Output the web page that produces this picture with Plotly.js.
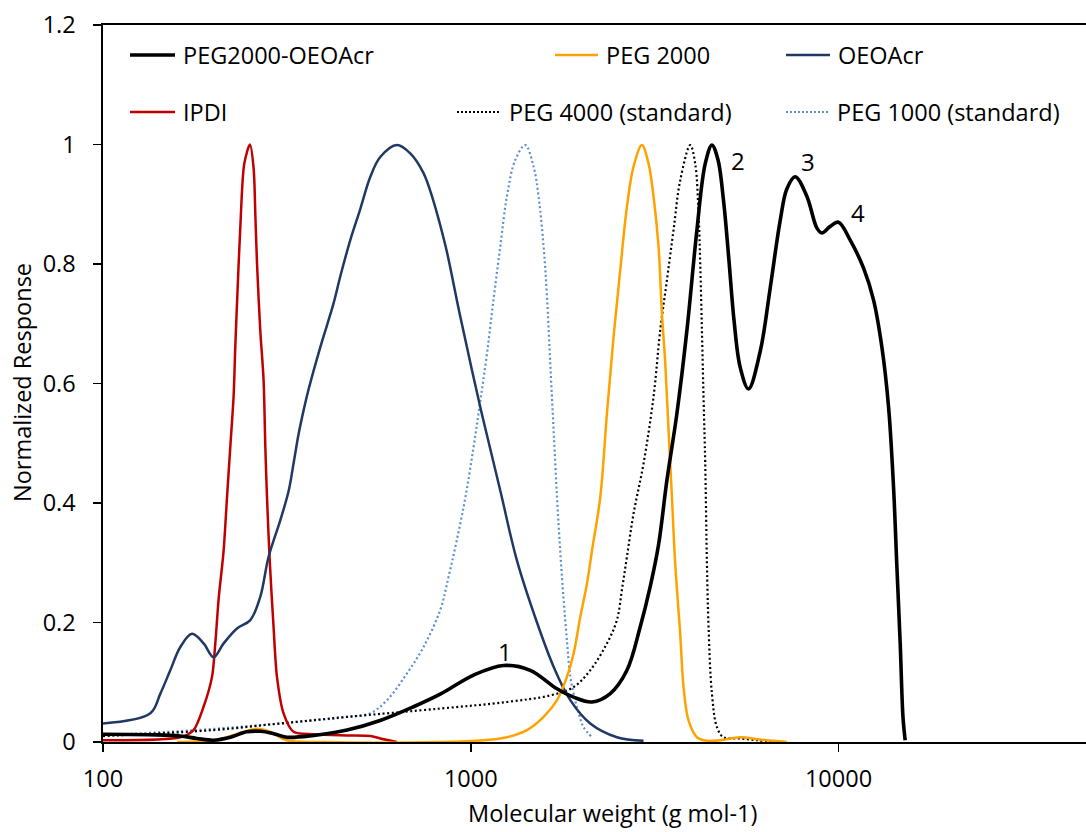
<!DOCTYPE html>
<html>
<head>
<meta charset="utf-8">
<script src="https://cdn.plot.ly/plotly-3.0.1.min.js"></script>
<style>
  html, body { margin: 0; padding: 0; background: #ffffff; overflow: hidden; }
  #chart { width: 1086px; height: 832px; }
</style>
</head>
<body>
<div id="chart"></div>
<script>
// ---- Data (molecular weight in g/mol, normalized response) ----
const seriesNames = ["PEG2000-OEOAcr", "PEG 2000", "OEOAcr", "IPDI", "PEG 4000 (standard)", "PEG 1000 (standard)"];

const copolyMW = [100, 140, 162, 180, 200, 222, 246, 268, 291, 316, 374, 461, 567, 699, 826, 1018, 1228, 1451, 1716, 1904, 2136, 2395, 2659, 2890, 3076, 3241, 3415, 3636, 3871, 4121, 4341, 4527, 4700, 4870, 5030, 5200, 5404, 5692, 6126, 6521, 6942, 7239, 7626, 8206, 8736, 9013, 9494, 10000, 10760, 11700, 12450, 13120, 13680, 14110, 14410, 14720, 14970, 15180];
const copolyResp = [0.013, 0.012, 0.010, 0.006, 0.003, 0.008, 0.017, 0.018, 0.014, 0.008, 0.011, 0.020, 0.036, 0.059, 0.080, 0.112, 0.128, 0.120, 0.089, 0.075, 0.067, 0.081, 0.120, 0.193, 0.260, 0.330, 0.438, 0.550, 0.689, 0.857, 0.968, 0.999, 0.975, 0.905, 0.810, 0.705, 0.627, 0.591, 0.654, 0.760, 0.873, 0.926, 0.946, 0.913, 0.860, 0.852, 0.863, 0.870, 0.840, 0.793, 0.740, 0.661, 0.561, 0.428, 0.295, 0.163, 0.043, 0.003];

const peg2000MW = [159, 200, 217, 241, 262, 285, 316, 400, 826, 1083, 1254, 1422, 1578, 1716, 1826, 1904, 1985, 2070, 2136, 2250, 2346, 2445, 2550, 2659, 2771, 2921, 3044, 3141, 3241, 3310, 3380, 3450, 3524, 3597, 3712, 3790, 3910, 4121, 4387, 4768, 5404, 6126, 7239];
const peg2000Resp = [0.0, 0.003, 0.008, 0.017, 0.022, 0.017, 0.003, 0.0, 0.0, 0.003, 0.008, 0.020, 0.042, 0.070, 0.109, 0.148, 0.209, 0.265, 0.320, 0.410, 0.550, 0.678, 0.790, 0.896, 0.963, 0.999, 0.968, 0.913, 0.829, 0.717, 0.634, 0.522, 0.410, 0.299, 0.180, 0.092, 0.036, 0.008, 0.002, 0.003, 0.008, 0.004, 0.0];

const oeoMW = [100, 134.5, 143.2, 152.4, 162.3, 174.6, 187.7, 199.8, 212.8, 231.4, 251.5, 267.7, 282, 303.4, 319.7, 329.7, 340.2, 351.1, 362.2, 389.9, 423.6, 441.7, 470.3, 500.7, 533.3, 567.5, 630, 684.7, 744, 792, 826, 861.5, 936.5, 1061, 1203, 1335, 1514, 1680, 1865, 2113, 2497, 2950];
const oeoResp = [0.031, 0.048, 0.081, 0.120, 0.159, 0.181, 0.165, 0.142, 0.165, 0.190, 0.204, 0.243, 0.310, 0.371, 0.420, 0.466, 0.515, 0.555, 0.590, 0.661, 0.734, 0.779, 0.840, 0.892, 0.946, 0.979, 0.999, 0.985, 0.952, 0.905, 0.865, 0.820, 0.712, 0.561, 0.421, 0.304, 0.200, 0.126, 0.070, 0.031, 0.008, 0.002];

const ipdiMW = [100, 162.3, 176.3, 187.7, 197.9, 202, 206.3, 212.8, 217.4, 221.9, 226.5, 228.9, 231.4, 236.2, 242.2, 251, 256.8, 259.5, 262.3, 267.7, 273.3, 276.3, 279.2, 284, 290.9, 297.2, 309.7, 329.7, 373.8, 460.7, 533.3, 567.5, 630];
const ipdiResp = [0.003, 0.008, 0.020, 0.059, 0.109, 0.165, 0.240, 0.320, 0.410, 0.494, 0.578, 0.660, 0.734, 0.860, 0.968, 1.0, 0.960, 0.885, 0.801, 0.689, 0.606, 0.494, 0.410, 0.304, 0.193, 0.109, 0.048, 0.017, 0.013, 0.011, 0.010, 0.006, 0.0];

const peg4000MW = [100, 200, 303, 461, 826, 1254, 1645, 1904, 2113, 2346, 2497, 2577, 2659, 2771, 2950, 3141, 3275, 3415, 3560, 3712, 3953, 4077, 4163, 4207, 4252, 4295, 4341, 4387, 4432, 4527, 4671, 4867, 5404, 5999, 6730];
const peg4000Resp = [0.010, 0.020, 0.031, 0.042, 0.056, 0.067, 0.078, 0.092, 0.120, 0.165, 0.204, 0.255, 0.310, 0.382, 0.466, 0.578, 0.689, 0.773, 0.857, 0.940, 0.999, 0.968, 0.885, 0.801, 0.689, 0.578, 0.466, 0.300, 0.193, 0.081, 0.025, 0.008, 0.006, 0.003, 0.0];

const peg1000MW = [100, 180, 303, 461, 533, 592, 671, 744, 826, 870, 956, 1018, 1061, 1107, 1153, 1203, 1254, 1321, 1407, 1482, 1529, 1578, 1612, 1645, 1680, 1716, 1751, 1788, 1826, 1865, 1922, 1972, 2026, 2136];
const peg1000Resp = [0.011, 0.020, 0.031, 0.042, 0.048, 0.070, 0.115, 0.159, 0.221, 0.276, 0.393, 0.494, 0.570, 0.650, 0.740, 0.829, 0.913, 0.974, 0.999, 0.963, 0.913, 0.829, 0.745, 0.634, 0.522, 0.410, 0.320, 0.240, 0.170, 0.110, 0.070, 0.045, 0.025, 0.008];

const xTickVals = [100, 1000, 10000];
const xTickText = ["100", "1000", "10000"];
const yTickVals = [0, 0.2, 0.4, 0.6, 0.8, 1.0, 1.2];
const yTickText = ["0", "0.2", "0.4", "0.6", "0.8", "1", "1.2"];

const peakLabels = ["1", "2", "3", "4"];
const peakLabelMW = [1241, 5336, 8273, 11317];
const peakLabelResp = [0.152, 0.974, 0.972, 0.887];

// ---- Styles ----
const FONT = "Open Sans, Noto Sans, Arial, sans-serif";
const FS = 23.5;
const colors = {
  copoly: "#000000",
  peg2000: "#FFA200",
  oeo: "#203864",
  ipdi: "#C00000",
  peg4000: "#000000",
  peg1000: "#5B8FD0"
};
const DOT = "2px,2.6px";
const SM = 1.0;

const traces = [
  { x: peg1000MW, y: peg1000Resp, name: seriesNames[5], mode: "lines",
    line: { color: colors.peg1000, width: 2.2, dash: DOT, shape: "spline", smoothing: SM } },
  { x: peg4000MW, y: peg4000Resp, name: seriesNames[4], mode: "lines",
    line: { color: colors.peg4000, width: 2.2, dash: DOT, shape: "spline", smoothing: SM } },
  { x: ipdiMW, y: ipdiResp, name: seriesNames[3], mode: "lines",
    line: { color: colors.ipdi, width: 2.5, shape: "spline", smoothing: 0.8 } },
  { x: oeoMW, y: oeoResp, name: seriesNames[2], mode: "lines",
    line: { color: colors.oeo, width: 2.5, shape: "spline", smoothing: SM } },
  { x: peg2000MW, y: peg2000Resp, name: seriesNames[1], mode: "lines",
    line: { color: colors.peg2000, width: 2.5, shape: "spline", smoothing: SM } },
  { x: copolyMW, y: copolyResp, name: seriesNames[0], mode: "lines",
    line: { color: colors.copoly, width: 3.6, shape: "spline", smoothing: SM } }
];
traces.forEach(t => { t.showlegend = false; t.hoverinfo = "x+y+name"; });

// ---- Layout geometry ----
const W = 1086, H = 832;
const M = { l: 103, r: 0, t: 25, b: 90 };
const PW = W - M.l - M.r, PH = H - M.t - M.b;
const px2x = p => (p - M.l) / PW;
const px2y = p => (H - M.b - p) / PH;

// custom legend (Excel-like two-row layout)
const legendItems = [
  { name: seriesNames[0], color: colors.copoly, width: 3.6, dash: "solid", x0: 130, x1: 175, tx: 181, py: 55 },
  { name: seriesNames[1], color: colors.peg2000, width: 2.5, dash: "solid", x0: 555, x1: 598, tx: 604, py: 55 },
  { name: seriesNames[2], color: colors.oeo, width: 2.5, dash: "solid", x0: 786, x1: 830, tx: 836, py: 55 },
  { name: seriesNames[3], color: colors.ipdi, width: 2.5, dash: "solid", x0: 130, x1: 175, tx: 181, py: 112 },
  { name: seriesNames[4], color: colors.peg4000, width: 2, dash: "dot", x0: 457, x1: 500, tx: 507, py: 112 },
  { name: seriesNames[5], color: colors.peg1000, width: 2, dash: "dot", x0: 786, x1: 829, tx: 835, py: 112 }
];

const shapes = legendItems.map(it => ({
  type: "line", xref: "paper", yref: "paper",
  x0: px2x(it.x0), x1: px2x(it.x1), y0: px2y(it.py), y1: px2y(it.py),
  line: { color: it.color, width: it.width, dash: it.dash === "dot" ? "2px,2px" : "solid" }
}));

const annotations = legendItems.map(it => ({
  xref: "paper", yref: "paper", x: px2x(it.tx), y: px2y(it.py),
  xanchor: "left", yanchor: "middle", showarrow: false, text: it.name,
  font: { family: FONT, size: FS, color: "#000000" }
}));

peakLabels.forEach((lab, i) => {
  annotations.push({
    xref: "x", yref: "y", x: Math.log10(peakLabelMW[i]), y: peakLabelResp[i],
    xanchor: "center", yanchor: "middle", showarrow: false, text: lab,
    font: { family: FONT, size: 24, color: "#000000" }
  });
});

// axis titles
annotations.push({
  xref: "paper", yref: "paper", x: px2x(612), y: px2y(813),
  xanchor: "center", yanchor: "middle", showarrow: false,
  text: "Molecular weight (g mol-1)",
  font: { family: FONT, size: FS, color: "#000000" }
});
annotations.push({
  xref: "paper", yref: "paper", x: px2x(22), y: px2y(383),
  xanchor: "center", yanchor: "middle", showarrow: false, textangle: -90,
  text: "Normalized Response",
  font: { family: FONT, size: FS, color: "#000000" }
});

const layout = {
  width: W, height: H,
  margin: M,
  paper_bgcolor: "#ffffff", plot_bgcolor: "#ffffff",
  font: { family: FONT, size: FS, color: "#000000" },
  showlegend: false,
  xaxis: {
    type: "log",
    range: [2, 4.673],
    tickvals: xTickVals, ticktext: xTickText,
    ticks: "outside", ticklen: 8, tickwidth: 1.5, tickcolor: "#000000",
    showline: true, linecolor: "#000000", linewidth: 1.6, mirror: true,
    showgrid: false, zeroline: false,
    tickfont: { family: FONT, size: FS, color: "#000000" },
    ticklabelstandoff: 7
  },
  yaxis: {
    range: [0, 1.2],
    tickvals: yTickVals, ticktext: yTickText,
    ticks: "outside", ticklen: 8, tickwidth: 1.5, tickcolor: "#000000",
    showline: true, linecolor: "#000000", linewidth: 1.6,
    showgrid: false, zeroline: false,
    tickfont: { family: FONT, size: FS, color: "#000000" },
    ticklabelstandoff: 13
  },
  shapes: shapes,
  annotations: annotations
};

Plotly.newPlot("chart", traces, layout, { displayModeBar: false, staticPlot: true });
</script>
</body>
</html>
